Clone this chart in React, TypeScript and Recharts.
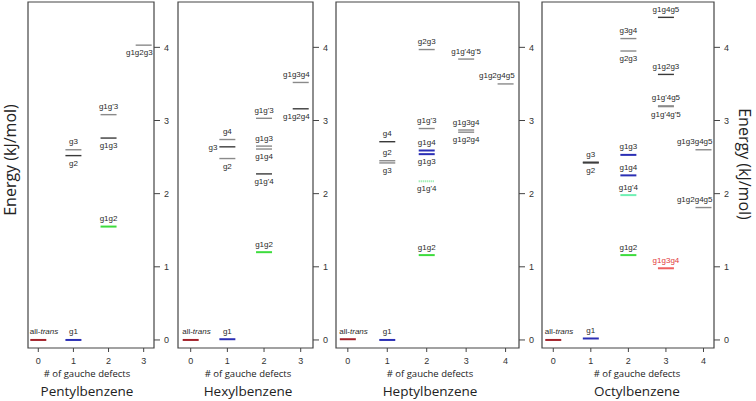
import React from "react";
import { ScatterChart, Scatter, XAxis, YAxis, ReferenceArea } from "recharts";

type Level = {
  name: string;
  defects: number;
  energy: number;
  side: "above" | "below" | "left";
  tone: string;
};

// energy levels (kJ/mol)
const pentylLevels: Level[] = [
  { name: "all-trans", defects: 0, energy: 0, side: "above", tone: "trans" },
  { name: "g1", defects: 1, energy: 0, side: "above", tone: "blue" },
  { name: "g3", defects: 1, energy: 2.6, side: "above", tone: "gray" },
  { name: "g2", defects: 1, energy: 2.52, side: "below", tone: "dark" },
  { name: "g1g'3", defects: 2, energy: 3.08, side: "above", tone: "gray" },
  { name: "g1g3", defects: 2, energy: 2.76, side: "below", tone: "dark" },
  { name: "g1g2", defects: 2, energy: 1.55, side: "above", tone: "green" },
  { name: "g1g2g3", defects: 3, energy: 4.03, side: "below", tone: "gray" },
];

const hexylLevels: Level[] = [
  { name: "all-trans", defects: 0, energy: 0, side: "above", tone: "trans" },
  { name: "g1", defects: 1, energy: 0.01, side: "above", tone: "blue" },
  { name: "g4", defects: 1, energy: 2.74, side: "above", tone: "gray" },
  { name: "g3", defects: 1, energy: 2.64, side: "left", tone: "dark" },
  { name: "g2", defects: 1, energy: 2.48, side: "below", tone: "gray" },
  { name: "g1g'3", defects: 2, energy: 3.03, side: "above", tone: "gray" },
  { name: "g1g3", defects: 2, energy: 2.65, side: "above", tone: "gray" },
  { name: "g1g4", defects: 2, energy: 2.61, side: "below", tone: "gray" },
  { name: "g1g'4", defects: 2, energy: 2.27, side: "below", tone: "dark" },
  { name: "g1g2", defects: 2, energy: 1.2, side: "above", tone: "green" },
  { name: "g1g3g4", defects: 3, energy: 3.52, side: "above", tone: "gray" },
  { name: "g1g2g4", defects: 3, energy: 3.16, side: "below", tone: "dark" },
];

const heptylLevels: Level[] = [
  { name: "all-trans", defects: 0, energy: 0.01, side: "above", tone: "trans" },
  { name: "g1", defects: 1, energy: 0, side: "above", tone: "blue" },
  { name: "g4", defects: 1, energy: 2.71, side: "above", tone: "dark" },
  { name: "g2", defects: 1, energy: 2.45, side: "above", tone: "gray" },
  { name: "g3", defects: 1, energy: 2.42, side: "below", tone: "gray" },
  { name: "g2g3", defects: 2, energy: 3.97, side: "above", tone: "gray" },
  { name: "g1g'3", defects: 2, energy: 2.89, side: "above", tone: "gray" },
  { name: "g1g4", defects: 2, energy: 2.59, side: "above", tone: "blue" },
  { name: "g1g3", defects: 2, energy: 2.54, side: "below", tone: "blue" },
  { name: "g1g'4", defects: 2, energy: 2.17, side: "below", tone: "mintDot" },
  { name: "g1g2", defects: 2, energy: 1.16, side: "above", tone: "green" },
  { name: "g1g'4g'5", defects: 3, energy: 3.84, side: "above", tone: "gray" },
  { name: "g1g3g4", defects: 3, energy: 2.87, side: "above", tone: "gray" },
  { name: "g1g2g4", defects: 3, energy: 2.84, side: "below", tone: "gray" },
  { name: "g1g2g4g5", defects: 4, energy: 3.5, side: "above", tone: "gray" },
];

const octylLevels: Level[] = [
  { name: "all-trans", defects: 0, energy: 0, side: "above", tone: "trans" },
  { name: "g1", defects: 1, energy: 0.02, side: "above", tone: "blue" },
  { name: "g3", defects: 1, energy: 2.43, side: "above", tone: "dark" },
  { name: "g2", defects: 1, energy: 2.42, side: "below", tone: "dark" },
  { name: "g3g4", defects: 2, energy: 4.12, side: "above", tone: "gray" },
  { name: "g2g3", defects: 2, energy: 3.95, side: "below", tone: "gray" },
  { name: "g1g3", defects: 2, energy: 2.53, side: "above", tone: "blue" },
  { name: "g1g4", defects: 2, energy: 2.25, side: "above", tone: "blue" },
  { name: "g1g'4", defects: 2, energy: 1.98, side: "above", tone: "mint" },
  { name: "g1g2", defects: 2, energy: 1.16, side: "above", tone: "green" },
  { name: "g1g4g5", defects: 3, energy: 4.41, side: "above", tone: "dark" },
  { name: "g1g2g3", defects: 3, energy: 3.63, side: "above", tone: "dark" },
  { name: "g1g'4g5", defects: 3, energy: 3.2, side: "above", tone: "gray" },
  { name: "g1g'4g'5", defects: 3, energy: 3.19, side: "below", tone: "gray" },
  { name: "g1g3g4", defects: 3, energy: 0.98, side: "above", tone: "red" },
  { name: "g1g3g4g5", defects: 4, energy: 2.6, side: "above", tone: "gray" },
  { name: "g1g2g4g5", defects: 4, energy: 1.81, side: "above", tone: "gray" },
];

const pentylDefects = [0, 1, 2, 3];
const hexylDefects = [0, 1, 2, 3];
const heptylDefects = [0, 1, 2, 3, 4];
const octylDefects = [0, 1, 2, 3, 4];
const energyTicks = [0, 1, 2, 3, 4];

const toneStroke: Record<string, string> = {
  trans: "#a3222a",
  blue: "#2b2fb5",
  green: "#3ddc3d",
  mint: "#6ff0b4",
  mintDot: "#7fe89a",
  red: "#f06060",
  gray: "#8a8a8a",
  dark: "#3a3a3a",
};

const panels = [
  { title: "Pentylbenzene", levels: pentylLevels, ticks: pentylDefects, domain: [-0.293, 3.294], left: 0, marginLeft: 22, plotRight: 154, textCenter: 87 },
  { title: "Hexylbenzene", levels: hexylLevels, ticks: hexylDefects, domain: [-0.346, 3.335], left: 172, marginLeft: 0, plotRight: 313, textCenter: 248 },
  { title: "Heptylbenzene", levels: heptylLevels, ticks: heptylDefects, domain: [-0.3, 4.34], left: 330, marginLeft: 0, plotRight: 519, textCenter: 430 },
  { title: "Octylbenzene", levels: octylLevels, ticks: octylDefects, domain: [-0.3, 4.28], left: 536, marginLeft: 0, plotRight: 714, textCenter: 637 },
];

const CHART_H = 372;
const Y_DOMAIN: [number, number] = [-0.11, 4.62];
const HALF = 8;
const LABEL_FONT = "'Liberation Sans', Arial, sans-serif";

const LevelMark = (props: any) => {
  const { cx, cy, payload, lastTick } = props;
  if (cx == null || cy == null) return null;
  const lv: Level = payload;
  const stroke = toneStroke[lv.tone] || "#555";
  const colored = lv.tone !== "gray" && lv.tone !== "dark";
  let tx = cx;
  let ty = cy - 5.5;
  let anchor: "middle" | "start" | "end" = "middle";
  if (lv.side === "below") ty = cy + 10;
  if (lv.side === "left") {
    tx = cx - HALF - 2;
    ty = cy + 3;
    anchor = "end";
  } else if (lv.defects === lastTick) {
    tx = cx + HALF + 1;
    anchor = "end";
  }
  if (lv.tone === "trans") {
    tx = cx - HALF - 0.5;
    anchor = "start";
  }
  return (
    <g>
      <line
        x1={cx - HALF}
        x2={cx + HALF}
        y1={cy}
        y2={cy}
        stroke={stroke}
        strokeWidth={colored ? 2 : 1.4}
        strokeDasharray={lv.tone === "mintDot" ? "1 1" : undefined}
      />
      <text
        x={tx}
        y={ty}
        textAnchor={anchor}
        fontSize={8}
        fontFamily={LABEL_FONT}
        fill={lv.tone === "red" ? "#e23a3a" : "#2a2a2a"}
      >
        {lv.tone === "trans" ? (
          <>
            all-<tspan fontStyle="italic">trans</tspan>
          </>
        ) : (
          lv.name
        )}
      </text>
    </g>
  );
};

const Panel = ({ p }: { p: (typeof panels)[number] }) => {
  const width = p.plotRight - p.left + 16;
  const lastTick = p.ticks[p.ticks.length - 1];
  return (
    <div style={{ position: "absolute", left: p.left, top: 0 }}>
      <ScatterChart
        width={width}
        height={CHART_H}
        margin={{ top: 2, right: 0, bottom: 0, left: p.marginLeft }}
      >
        <XAxis
          type="number"
          dataKey="defects"
          domain={p.domain}
          ticks={p.ticks}
          allowDataOverflow
          height={24}
          axisLine={false}
          tickSize={4}
          tickMargin={6}
          tickLine={{ stroke: "#444" }}
          tick={{ fontSize: 9, fill: "#333", fontFamily: LABEL_FONT }}
        />
        <YAxis
          yAxisId="l"
          type="number"
          dataKey="energy"
          domain={Y_DOMAIN}
          ticks={energyTicks}
          allowDataOverflow
          width={6}
          axisLine={false}
          tickSize={6}
          tickLine={{ stroke: "#444" }}
          tick={false}
        />
        <YAxis
          yAxisId="r"
          orientation="right"
          type="number"
          domain={Y_DOMAIN}
          ticks={energyTicks}
          allowDataOverflow
          width={16}
          axisLine={false}
          tickSize={6}
          tickMargin={4}
          tickLine={{ stroke: "#444" }}
          tick={{ fontSize: 9, fill: "#333", fontFamily: LABEL_FONT }}
        />
        <ReferenceArea
          yAxisId="l"
          x1={p.domain[0]}
          x2={p.domain[1]}
          y1={Y_DOMAIN[0]}
          y2={Y_DOMAIN[1]}
          fill="none"
          stroke="#444"
          strokeWidth={1.2}
          ifOverflow="visible"
        />
        <Scatter
          yAxisId="l"
          data={p.levels}
          isAnimationActive={false}
          shape={(s: any) => <LevelMark {...s} lastTick={lastTick} />}
        />
      </ScatterChart>
    </div>
  );
};

const textBase: React.CSSProperties = {
  position: "absolute",
  whiteSpace: "nowrap",
  lineHeight: 1,
  fontFamily: "'Open Sans', sans-serif",
  color: "#222",
  transform: "translate(-50%, -50%)",
};

export default function App() {
  return (
    <div style={{ position: "absolute", left: 0, top: 0, width: 756, height: 401, background: "#fff", overflow: "hidden" }}>
      {panels.map((p) => (
        <Panel key={p.title} p={p} />
      ))}
      {panels.map((p) => (
        <React.Fragment key={p.title + "-t"}>
          <div style={{ ...textBase, left: p.textCenter, top: 374, fontSize: 9.5 }}>
            # of gauche defects
          </div>
          <div style={{ ...textBase, left: p.textCenter, top: 392, fontSize: 13.5 }}>
            {p.title}
          </div>
        </React.Fragment>
      ))}
      <div style={{ ...textBase, left: 10, top: 160, fontSize: 16, transform: "translate(-50%, -50%) rotate(-90deg)" }}>
        Energy (kJ/mol)
      </div>
      <div style={{ ...textBase, left: 745, top: 164, fontSize: 16, transform: "translate(-50%, -50%) rotate(90deg)" }}>
        Energy (kJ/mol)
      </div>
    </div>
  );
}
